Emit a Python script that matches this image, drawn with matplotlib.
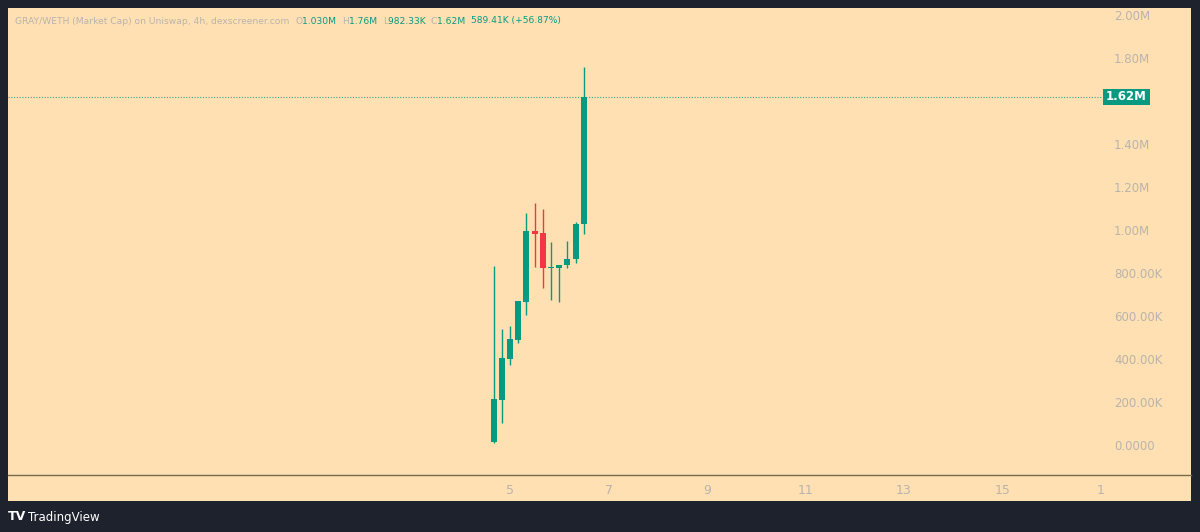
import matplotlib
matplotlib.use("Agg")
import matplotlib.pyplot as plt
import matplotlib.transforms as mtransforms
from matplotlib.lines import Line2D
from matplotlib.patches import Rectangle
from matplotlib.ticker import FuncFormatter

# 4h candles, x in days of the month
bar_days = [4.667, 4.833, 5.0, 5.167, 5.333, 5.5, 5.667, 5.833, 6.0, 6.167, 6.333, 6.5]
opens = [15e3, 209e3, 400e3, 488e3, 665e3, 995e3, 986e3, 823e3, 823e3, 837e3, 865e3, 1030e3]
highs = [833e3, 540e3, 553e3, 670e3, 1079e3, 1126e3, 1098e3, 944e3, 837e3, 949e3, 1037e3, 1760e3]
lows = [10e3, 102e3, 372e3, 474e3, 605e3, 828e3, 730e3, 674e3, 665e3, 823e3, 847e3, 982.33e3]
closes = [214e3, 405e3, 493e3, 670e3, 995e3, 981e3, 823e3, 828e3, 837e3, 865e3, 1030e3, 1620e3]

last_price = 1.62e6
price_ticks = [0, 200e3, 400e3, 600e3, 800e3, 1.0e6, 1.2e6, 1.4e6, 1.8e6, 2.0e6]
day_ticks = [5, 7, 9, 11, 13, 15, 17]
day_labels = ["5", "7", "9", "11", "13", "15", "1"]

header_parts = [
    ("GRAY/WETH (Market Cap) on Uniswap, 4h, dexscreener.com  ", "grey"),
    ("O", "grey"), ("1.030M  ", "green"),
    ("H", "grey"), ("1.76M  ", "green"),
    ("L", "grey"), ("982.33K  ", "green"),
    ("C", "grey"), ("1.62M  ", "green"),
    ("589.41K (+56.87%)", "green"),
]

BG = "#1e222d"
PANEL = "#ffe0b2"
UP = "#089981"
DOWN = "#f23645"
MUTED = "#b8b4ad"

W, H = 1200, 532
fig = plt.figure(figsize=(W / 100, H / 100), dpi=100, facecolor=BG)

# cream panel behind chart + axes strips
fig.patches.append(Rectangle((8 / W, 1 - 501 / H), 1183 / W, 493 / H,
                             transform=fig.transFigure, facecolor=PANEL,
                             edgecolor="none", zorder=-10))
# separator between chart and time scale, full panel width
fig.lines.append(Line2D([8 / W, 1191 / W], [1 - 474.5 / H, 1 - 474.5 / H],
                        transform=fig.transFigure, color="#7a6a4a",
                        linewidth=1, zorder=5))

ax = fig.add_axes([8 / W, 1 - 474 / H, 1095 / W, 466 / H])
ax.set_facecolor("none")
ax.set_zorder(1)
ax.set_xlim(-5.193, 17.04)
ax.set_ylim(-135e3, 2.033e6)

body_w = 0.122
for d, o, h, l, c in zip(bar_days, opens, highs, lows, closes):
    col = UP if c >= o else DOWN
    ax.vlines(d, l, h, color=col, linewidth=1, zorder=2)
    bottom = min(o, c)
    height = max(abs(c - o), 4e3)
    ax.add_patch(Rectangle((d - body_w / 2, bottom), body_w, height,
                           facecolor=col, edgecolor="none", zorder=3))

ax.axhline(last_price, color="#3aa58a", linestyle=(0, (1, 1.5)), linewidth=0.8, zorder=1)

for side in ["left", "right", "top", "bottom"]:
    ax.spines[side].set_visible(False)

ax.yaxis.tick_right()
ax.set_yticks(price_ticks)


def fmt_price(v, _):
    if v == 0:
        return "0.0000"
    if v >= 1e6:
        return f"{v / 1e6:.2f}M"
    return f"{v / 1e3:.2f}K"


ax.yaxis.set_major_formatter(FuncFormatter(fmt_price))
ax.tick_params(axis="y", length=0, pad=8, labelsize=8.5, labelcolor=MUTED)
ax.set_xticks(day_ticks)
ax.set_xticklabels(day_labels)
ax.tick_params(axis="x", length=0, pad=7, labelsize=9, labelcolor=MUTED)

# last price tag on the price scale
trans = mtransforms.blended_transform_factory(ax.transAxes, ax.transData)
tag_w = 47 / 1095
tag_h = 16 * (2.033e6 + 135e3) / 466
ax.add_patch(Rectangle((1.0, last_price - tag_h / 2), tag_w, tag_h, transform=trans,
                       facecolor=UP, edgecolor="none", clip_on=False, zorder=4))
ax.text(1.0 + tag_w / 2, last_price, "1.62M", transform=trans, ha="center", va="center",
        color="white", fontsize=8.5, fontweight="bold", clip_on=False, zorder=5)

# legend / header line
renderer = fig.canvas.get_renderer()
x = 15 / W
colors = {"grey": MUTED, "green": UP}
for txt, key in header_parts:
    t = fig.text(x, 1 - 21 / H, txt, color=colors[key], fontsize=6.6,
                 va="center", ha="left")
    bb = t.get_window_extent(renderer=renderer)
    x += bb.width / W

# TradingView mark
fig.text(8 / W, 1 - 517 / H, "TV", color="white", fontsize=9, fontweight="bold",
         va="center", ha="left")
fig.text(28 / W, 1 - 517 / H, "TradingView", color="white", fontsize=8.5,
         va="center", ha="left")

fig.savefig("out.png", dpi=100, facecolor=BG)
